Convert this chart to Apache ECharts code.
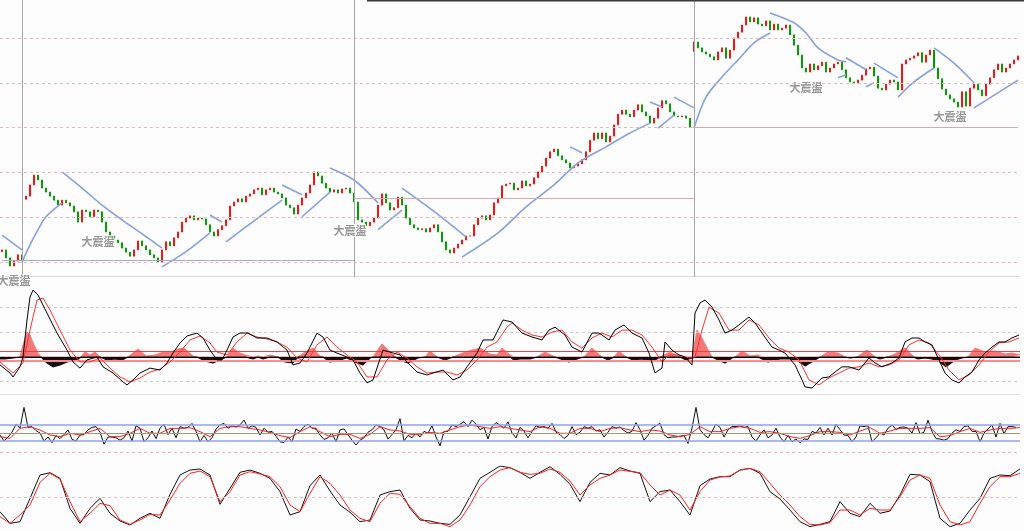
<!DOCTYPE html>
<html><head><meta charset="utf-8">
<script src="https://cdn.jsdelivr.net/npm/echarts@6/dist/echarts.min.js"></script>
<style>html,body{margin:0;padding:0;background:#fcfdfc}#c{width:1024px;height:531px}</style>
</head><body><div id="c"></div>
<script>
// ---- price panel ----
const closes = [12.7,10.9,9.1,10.2,11.6,10.4,24.7,27.2,29.4,28.3,
26.5,25.6,24.7,23.8,22.7,23.8,23.2,22.5,21.2,18.9,
21.6,21.2,20.1,21.6,21.2,18.9,16.7,15.8,14.9,14.3,
13.1,12.2,11.3,12.7,14.7,13.6,12.7,11.6,10.9,10.0,
12.7,14.5,13.6,15.4,16.7,18.9,19.8,20.3,19.4,19.8,
19.6,18.3,16.7,15.8,17.2,18.1,19.4,22.5,23.4,24.1,
23.4,24.7,25.2,26.1,26.5,25.0,26.1,26.5,25.6,25.2,
24.3,22.7,22.1,20.7,22.7,24.3,25.4,27.2,30.1,29.2,
27.6,26.5,25.6,26.1,25.4,26.3,26.5,25.4,23.4,19.4,
18.9,18.1,18.9,19.8,22.7,25.2,23.2,21.6,22.1,24.5,
22.7,19.8,18.3,17.6,17.2,17.4,16.7,17.6,18.3,16.7,
14.5,12.7,12.0,13.1,14.0,14.9,15.8,15.8,18.3,19.8,
20.3,19.4,20.5,23.2,24.3,27.0,27.4,27.6,26.1,26.5,
28.1,27.0,27.4,28.8,30.1,31.4,33.2,34.6,35.2,33.7,
32.8,32.1,31.0,31.4,31.9,32.8,34.6,37.2,38.8,37.5,
38.8,36.8,38.1,40.6,43.0,43.9,43.0,42.4,43.9,45.1,
43.5,42.6,41.0,42.1,44.4,46.0,45.3,43.5,42.6,42.4,
42.6,42.1,40.1,59.1,57.8,56.9,56.4,55.8,55.1,56.9,
57.8,55.5,57.3,60.0,61.3,62.9,64.7,63.6,64.5,63.1,
62.7,63.8,61.8,63.1,61.8,62.2,62.9,60.7,58.4,56.2,
53.3,52.4,54.2,52.9,53.8,54.6,52.4,53.3,54.2,54.6,
52.9,51.1,50.2,50.0,50.6,51.7,53.1,53.5,51.5,48.8,
48.4,49.7,50.6,50.2,48.4,54.2,55.1,55.5,56.0,56.7,
54.6,56.2,57.3,53.3,50.9,48.6,47.3,46.4,45.7,44.6,
48.0,44.8,48.8,49.7,48.4,47.1,49.7,51.1,52.9,54.2,
52.4,53.3,54.2,55.1,56.0];
const gapOpens = {0: 12.3, 6: 24.0, 173: 57.0};
const priceGridLevels = [10, 20, 30, 40, 50, 60];
const periodStarts = [5, 88, 173];
const prevCloseLevels = [[0, 88, 10.4], [88, 173, 24.3], [173, 254, 40.1]];
const maSegments = [
 [[0,16.0],[5,12.7]],
 [[5,9.8],[6,12.0],[9,17.2],[11,20.1],[15,23.2]],
 [[15,30.1],[20,26.5],[25,22.7],[30,19.4],[35,16.3],[40,13.1]],
 [[40,8.9],[46,12.3],[52,16.5]],
 [[52,20.5],[55,18.9]],
 [[56,14.5],[63,19.2],[70,23.8]],
 [[70,27.2],[75,25.0]],
 [[75,20.1],[82,25.6]],
 [[82,31.0],[88,28.3],[94,23.2]],
 [[94,17.2],[100,21.6]],
 [[100,26.5],[108,21.3],[116,15.6]],
 [[115,11.1],[124,16.5],[131,22.3],[138,27.2],[144,32.1],[151,35.7],[157,38.8],[162,41.0]],
 [[142,35.7],[145,34.4]],
 [[162,45.7],[165,44.6]],
 [[164,39.9],[168,42.8]],
 [[168,46.8],[173,44.4]],
 [[173,39.9],[176,46.8],[180,51.3],[184,55.1],[188,58.9],[192,61.1]],
 [[192,65.6],[198,63.4],[201,61.1],[204,57.8],[209,55.1],[211,54.7]],
 [[209,51.1],[211,51.8]],
 [[211,55.6],[216,52.9]],
 [[216,49.1],[218,50.0]],
 [[218,54.4],[224,51.1]],
 [[224,46.8],[228,50.2],[233,53.3]],
 [[233,57.8],[238,54.4],[243,50.0]],
 [[243,44.4],[254,50.6]]
];
const noteText = '大震盪';
const notes = [[3,5.8],[24,14.5],[87,16.9],[201,48.8],[237,42.4]];

// ---- MACD panel (x in bar units) ----
const macdLine = [[0,-0.32],[2.5,-0.65],[3.25,-0.81],[5,-0.4],[5.75,0],[6.75,1.5],[7.5,2.43],[8.25,2.71],[9.5,2.51],[11.75,1.78],[14.25,0.97],[16.75,0.28],[18.25,-0.2],[20,-0.45],[21.75,-0.12],[24.25,0],[25.75,-0.4],[28.25,-0.65],[30.75,-1.01],[31.75,-1.13],[33.25,-0.93],[35,-0.65],[37.5,-0.45],[40,-0.53],[41.75,-0.24],[43.25,0.16],[45,0.57],[46.75,0.85],[49.25,0.97],[50.75,0.77],[52.5,0.28],[54.25,-0.12],[55.5,-0.12],[56.75,0.28],[58.25,0.81],[60,0.97],[62,0.97],[64.25,0.77],[66.75,0.77],[69.25,0.61],[71.75,0.28],[73.25,-0.32],[75,-0.24],[76.75,0.16],[79.25,0.97],[80.75,0.81],[82.5,0.28],[84.25,0.16],[86.75,0],[88.25,-0.12],[90,-0.65],[91.75,-1.05],[93.25,-0.93],[95.75,0.28],[97.5,0.2],[100,0.08],[101.75,-0.2],[104.25,-0.61],[106.75,-0.73],[108.25,-0.65],[110.75,-0.53],[113.25,-0.93],[115,-0.81],[116.75,-0.4],[119.25,0.16],[120.75,0.69],[123.25,0.69],[125.75,1.5],[128,1.42],[130.5,0.97],[133,0.81],[135.5,0.69],[137.25,1.09],[138.75,1.21],[141.25,0.89],[143,0.4],[145.5,0.2],[148,0.97],[149.75,0.97],[152.25,0.69],[153.75,1.09],[156,1.3],[158,0.97],[160.5,0.77],[162.25,0.16],[163.75,-0.65],[165.5,-0.45],[166.25,0.61],[168,0.28],[169.75,0.08],[171.25,0],[173,-0.32],[173.75,1.78],[175,2.19],[176.25,2.31],[178,2.02],[179.75,1.5],[181.25,0.97],[183,1.09],[184.75,1.3],[187.25,1.62],[188.75,1.38],[190.5,0.97],[193,0.4],[194.75,0.28],[196.25,0.16],[198.75,-0.32],[200.5,-0.93],[201.25,-1.21],[203,-1.26],[205.5,-0.85],[207.25,-0.81],[208.75,-0.61],[210.5,-0.4],[212.25,-0.4],[214.75,-0.53],[217.25,-0.04],[218.75,-0.24],[220.5,-0.4],[223,-0.24],[224.75,-0.04],[226.25,0.61],[228,0.77],[229.75,0.77],[231.25,0.61],[233,0.49],[234.75,-0.12],[236.25,-0.65],[238,-0.93],[239.75,-1.05],[241.25,-0.81],[243,-0.61],[244.75,-0.12],[246.25,0.16],[248,0.4],[249.75,0.61],[251.25,0.61],[253,0.77],[254.75,0.89]];
const macdSignal = [[0,-0.2],[3.25,-0.65],[5.75,-0.24],[7.5,1.09],[9.25,2.31],[10.75,2.39],[12.5,1.9],[15,1.09],[17.5,0.28],[20,-0.2],[22.5,-0.2],[25,-0.04],[27.5,-0.45],[30,-0.81],[32.5,-1.01],[35,-0.85],[37.5,-0.61],[40,-0.49],[42.5,-0.2],[45,0.2],[47.5,0.69],[50,0.85],[52.5,0.57],[54.25,0.2],[56.75,0.08],[59.25,0.61],[61.75,0.97],[64.25,0.81],[66.75,0.73],[69.25,0.61],[71.75,0.4],[74.25,-0.04],[76.75,-0.2],[79.25,0.49],[81.75,0.81],[84.25,0.4],[86.75,0.08],[89.25,-0.2],[91.75,-0.81],[94.25,-0.81],[96.75,-0.12],[99.25,0.2],[101.75,-0.04],[104.25,-0.4],[106.75,-0.65],[109.25,-0.61],[111.75,-0.61],[114.25,-0.73],[116.75,-0.53],[119.25,-0.12],[121.75,0.4],[124.25,0.61],[126.75,1.21],[128,1.38],[130.5,1.09],[133,0.89],[135.5,0.81],[138,1.01],[140.5,1.09],[143,0.61],[145.5,0.36],[148,0.77],[150.5,0.97],[153,0.81],[155.5,1.09],[158,1.09],[160.5,0.89],[163,0.4],[165.5,-0.2],[167.25,0.08],[169.75,0.08],[172.25,-0.04],[173.75,0],[175.5,1.09],[177.25,2.02],[179.75,1.78],[182.25,1.09],[184.75,1.09],[187.25,1.5],[189.75,1.3],[192.25,0.77],[194.75,0.36],[197.25,0.2],[199.75,-0.12],[202.25,-0.93],[204.75,-1.13],[207.25,-0.85],[209.75,-0.65],[212.25,-0.45],[214.75,-0.4],[217.25,-0.24],[219.75,-0.4],[222.25,-0.32],[224.75,-0.12],[227.25,0.49],[229.75,0.69],[232.25,0.57],[234.75,0.08],[237.25,-0.53],[239.75,-0.93],[242.25,-0.73],[244.75,-0.32],[247.25,0.2],[249.75,0.57],[252.25,0.61],[254.75,0.77]];
const macdHist = [[0,-0.08],[1.25,-0.08],[3.25,-0.04],[5,0],[5.75,0.49],[6.75,1.01],[7.5,0.89],[8.25,0.57],[9.5,0.16],[10.25,0],[11.75,-0.24],[13.25,-0.4],[15,-0.32],[16.75,-0.2],[19.25,-0.12],[20.25,0],[21.25,0.2],[22.5,0.08],[23.75,0.2],[25,0],[26.75,-0.12],[28.75,-0.08],[30.5,-0.12],[32,0],[34.5,0.32],[36.5,0.04],[38.75,0.08],[40.75,0.2],[42.5,0.2],[44.5,0.32],[46,0.36],[48.25,0.04],[49.25,0],[51.25,-0.16],[53.25,-0.24],[55.5,-0.08],[56.75,0],[58.25,0.36],[59.5,0.2],[61.25,0.08],[63.25,-0.08],[64.5,0.04],[65.75,-0.08],[67.5,0.08],[69.5,0],[71.25,-0.2],[73.25,-0.24],[74.5,0],[76.25,0.2],[78.25,0.36],[80,0.04],[80.75,0],[82.5,-0.2],[85,-0.12],[86.75,-0.04],[88.75,-0.2],[90.75,-0.32],[92.5,-0.04],[93.25,0],[95.5,0.53],[97.5,0.2],[98.75,0],[100.5,-0.16],[102,-0.24],[104.5,-0.04],[106.25,0],[107.5,0.24],[109.25,0],[111.25,-0.12],[113.25,0],[116.25,0.2],[120,0.36],[122.5,0.12],[124.25,0.08],[125.5,0.36],[127.5,0.08],[128.5,-0.12],[130,-0.08],[132.5,-0.08],[134.25,0],[136.25,0.2],[138.75,0],[142.25,-0.2],[145,-0.04],[146,0],[148,0.36],[150.5,0],[152,-0.12],[153.5,0],[154.75,0.24],[156.5,0],[158.25,-0.12],[160.5,-0.08],[163,-0.2],[165,0],[167.5,0.2],[170,0],[171.5,-0.12],[173,-0.04],[173.5,0],[174.25,1.09],[175.5,0.77],[176.75,0.36],[178,0],[179.5,-0.12],[181.25,-0.24],[183,-0.04],[183.75,0],[185.5,0.24],[187.5,0.04],[189.5,0.08],[190.5,-0.08],[192,-0.2],[195,-0.08],[197.5,-0.08],[199.5,-0.16],[201.25,-0.36],[203.75,-0.12],[205,0],[207,0.2],[209.5,0.16],[211.25,0],[212.5,-0.04],[214.25,0],[216.75,0.28],[218.75,0],[220,-0.08],[221.75,0],[223.25,0.08],[226.25,0.36],[228.25,0.04],[229.5,-0.08],[231.25,-0.04],[233,-0.08],[235,-0.2],[236.5,-0.4],[238.75,-0.12],[240.5,-0.04],[242,0],[243.75,0.36],[246.25,0.2],[248.75,0.24],[251.25,0.12],[253,0.16],[255,0.08]];
const macdGridLevels = [2, 1, -1];
const macdUpper = 0.24, macdLower = -0.16;

// ---- oscillator panel (one value per bar) ----
const oscLine = [-0.25,-1.0,-0.5,0.1,1.1,0.6,3.2,0.7,0.8,0.3,
0,-1.0,-0.5,-1.2,-0.3,-0.7,-0.2,0.4,-0.8,-1.0,
-0.25,-0.2,0.4,0.7,0.8,0.1,-1.4,-0.5,-0.5,-0.6,
-0.9,-0.6,0.25,-1.0,0.9,0.6,-1.1,-0.6,0.25,-0.7,
0.6,1.1,-0.2,0.6,-0.6,0.8,0.6,0.7,1.2,0.2,
-1.1,-0.3,-1.1,-0.6,0.5,1.0,1.2,0.6,0.9,0.75,
1.0,1.6,0.6,0.9,0.7,-0.25,0.6,0.1,0.2,-0.4,
-1.1,-1.2,-0.5,-1.1,0.5,0.2,0.8,1.1,0.6,0.6,
-0.25,-0.8,-0.6,0,-1.1,0.4,0.5,-0.2,-0.9,-1.5,
-0.9,-0.6,0.1,0.4,1.0,0.8,0.4,-0.75,-0.2,0.4,
1.8,-1.0,-0.3,-0.6,0,-0.5,0.2,0,0.9,-0.5,
-1.6,0.2,0.2,1.0,0.8,1.1,1.4,0.8,1.6,1.1,
0.4,0.7,-0.75,0.8,1.3,1.0,0.6,1.4,
0,-0.6,0.7,0.25,-0.6,0.2,0.9,0.7,0.8,0.6,
1.2,0.1,-0.2,-0.7,-0.3,0.8,-0.2,0.1,0.8,0.6,
0.8,0.25,0.4,-0.5,0.1,0.8,0.6,0.75,0.3,0,
0.2,1.3,0.4,-0.9,-0.3,0.6,0.9,1.2,-0.2,-0.6,
-0.5,-0.5,-0.4,-0.3,-1.3,0.6,3.2,0.4,-0.2,-0.6,
0.2,1.1,0.7,-0.5,0.4,0.8,0.8,0.9,0.7,0.8,
-0.5,-1.0,-0.25,0.4,-0.6,-0.25,0.6,-0.5,-1.1,-0.3,
-1.1,-0.75,-1.2,-0.75,-0.8,0.2,0,0.7,-0.25,0.6,
-0.25,1.1,0.4,-0.25,-0.3,-1.1,-0.5,0.9,0.8,0.9,
-1.1,-0.6,0,-0.25,0.6,1.0,0.45,0.7,0.75,0.6,
0,1.3,-0.1,0.1,1.6,0.2,-0.7,-0.75,-0.9,-0.7,
0,0.4,0.2,0.8,0.9,0.2,0.2,-1.1,0,0.5,
1.0,-0.5,1.2,-0.1,0.8,0.8,0.7];
// sampled every 2.5 bars
const oscSignal = [-0.46,-0.67,0.58,0.79,0.38,-0.25,-0.46,-0.04,-0.25,0.17,
0.58,-0.46,-0.46,-0.04,0.58,-0.04,-0.04,0.58,0.58,0.67,
0.17,-0.46,0.58,0.79,0.79,0.58,0.38,0.08,-0.33,-0.58,
0.17,0.79,0.17,-0.46,-0.17,-0.17,-0.67,-0.17,0.79,0.38,
0.25,-0.17,-0.17,0.08,-0.04,0.38,0.79,1.0,0.79,0.58,
0.79,0.58,
0.38,0.17,0.79,0.58,-0.04,-0.04,0.58,0.58,0.17,0.58,
0.67,0.38,0.17,0.38,0.25,-0.25,-0.46,-0.17,0.79,0.17,
0.17,0.58,0.79,0.58,0.08,0.17,-0.04,-0.46,-0.67,-0.33,
0.17,0.17,0.08,-0.25,0.25,0.67,-0.04,0.25,0.58,0.58,
0.58,0.67,-0.46,-0.33,0.17,0.58,0.08,0.38,0.58,0.58,
0.67];
const oscBands = [1, -1];

// ---- stochastic panel (sampled every 2.5 bars) ----
const stochK = [26.3,7.5,10.2,47.8,85.5,89.2,80.1,31.7,7.5,31.7,
47.8,23.7,11.3,4.8,15.6,23.7,15.6,54.3,85.5,93.5,
95.2,85.5,38.2,64.0,89.8,93.5,88.2,80.1,58.6,21.0,
26.3,68.3,85.5,59.7,37.1,25.3,10.2,12.9,53.2,58.6,
61.3,31.7,12.9,11.3,7.5,5.9,21.0,50.5,80.1,89.8,
100,97.3,
89.8,80.1,89.8,98.9,86.6,70.4,42.5,73.6,88.2,85.5,
97.3,91.9,88.2,42.5,58.6,61.3,42.5,21.0,68.3,79.0,
82.8,82.8,93.5,96.2,88.2,58.6,46.8,29.0,10.2,2.2,
5.9,10.2,42.5,23.7,18.3,39.8,23.7,27.4,53.2,86.6,
85.5,74.7,15.6,2.2,7.5,29.0,47.8,80.1,85.5,84.4,
95.2];
const stochD = [18.3,7.5,21.0,37.1,73.6,88.2,79.0,42.5,10.2,23.7,
39.8,36.0,12.9,5.9,12.9,22.0,21.0,45.2,72.0,88.2,
91.9,82.8,42.5,58.6,85.5,90.9,87.1,82.8,66.7,37.1,
26.3,55.9,82.8,72.0,53.2,29.0,15.6,10.2,39.8,55.9,
54.3,34.4,15.6,7.5,7.5,2.2,12.9,37.1,66.7,82.8,
93.5,97.3,
89.8,86.6,88.2,95.2,89.8,75.8,53.2,69.4,80.1,85.5,
93.5,91.4,89.2,69.4,53.2,61.3,53.2,29.0,58.6,77.4,
82.3,83.9,93.5,96.2,90.9,72.0,53.2,37.1,18.3,5.9,
4.8,8.6,29.0,29.0,21.0,31.7,29.0,29.0,50.5,77.4,
85.5,80.1,37.1,10.2,4.8,10.2,39.8,66.7,82.8,82.8,
88.2];
const stochMid = 50;
const sampleStep = 2.5;

// ---- build ----
const cats = closes.map((_, i) => String(i));
const candles = closes.map((c, i) => {
  const o = (i in gapOpens) ? gapOpens[i] : closes[i - 1];
  return [o, c, Math.min(o, c), Math.max(o, c)];
});
const stepped = arr => arr.map((v, k) => [k * sampleStep, v]);
const noLabel = {show: false};

const series = [];
series.push({
  type: 'candlestick', xAxisIndex: 0, yAxisIndex: 0, data: candles, barWidth: 2,
  itemStyle: {color: '#ff1010', color0: '#00a000', borderColor: '#ff1010', borderColor0: '#00a000', borderWidth: 1},
  markLine: {
    silent: true, symbol: 'none', label: noLabel, animation: false,
    data: [
      ...priceGridLevels.map(v => ({yAxis: v, lineStyle: {type: [3, 3], color: '#e2bcbc', width: 1}})),
      {yAxis: 6.75, lineStyle: {type: 'solid', color: '#dcdcdc', width: 1}},
      ...periodStarts.map(i => ({xAxis: i, lineStyle: {type: 'solid', color: '#a8a8a8', width: 1}})),
      ...prevCloseLevels.map(([a, b, v], k) => [
        {coord: [a, v], lineStyle: {type: 'solid', color: k === 0 ? '#a9a6c8' : '#d8aab0', width: 1}},
        {coord: [b, v]}
      ])
    ]
  }
});
maSegments.forEach(seg => series.push({
  type: 'line', xAxisIndex: 0, yAxisIndex: 0, data: seg, showSymbol: false, smooth: 0.3,
  lineStyle: {color: '#86a2dc', width: 1.6}, silent: true
}));
series.push({
  type: 'scatter', xAxisIndex: 0, yAxisIndex: 0, clip: false, silent: true, z: 20,
  symbolSize: 1, itemStyle: {color: 'rgba(0,0,0,0)'},
  data: notes,
  label: {show: true, formatter: noteText, position: 'inside', color: '#7c7c7c', fontSize: 11, fontWeight: 'bold',
    fontFamily: 'Noto Sans CJK TC', textBorderColor: '#ffffff', textBorderWidth: 2}
});

// MACD panel
series.push({
  type: 'line', xAxisIndex: 1, yAxisIndex: 1, showSymbol: false, silent: true, z: 1,
  data: macdHist.map(([t, v]) => [t, Math.max(v, 0)]),
  lineStyle: {width: 1, color: '#f47878'}, areaStyle: {color: '#f47878', opacity: 1},
  markLine: {
    silent: true, symbol: 'none', label: noLabel, animation: false,
    data: [
      ...macdGridLevels.map(v => ({yAxis: v, lineStyle: {type: [3, 3], color: '#cccccc', width: 1}})),
      {yAxis: -1.49, lineStyle: {type: 'solid', color: '#e2e2e2', width: 1}},
      {yAxis: 0, lineStyle: {type: 'solid', color: '#000000', width: 1}},
      {yAxis: macdUpper, lineStyle: {type: 'solid', color: '#ff3a3a', width: 1}},
      {yAxis: macdLower, lineStyle: {type: 'solid', color: '#ff8c8c', width: 2}}
    ]
  }
});
series.push({
  type: 'line', xAxisIndex: 1, yAxisIndex: 1, showSymbol: false, silent: true, z: 4,
  data: macdHist.map(([t, v]) => [t, Math.min(v, 0)]),
  lineStyle: {width: 1.2, color: '#111111'}, areaStyle: {color: '#111111', opacity: 1}
});
series.push({type: 'line', xAxisIndex: 1, yAxisIndex: 1, showSymbol: false, silent: true, z: 5, data: macdSignal,
  lineStyle: {color: '#ff3030', width: 1}});
series.push({type: 'line', xAxisIndex: 1, yAxisIndex: 1, showSymbol: false, silent: true, z: 6, data: macdLine,
  lineStyle: {color: '#000000', width: 1}});

// oscillator panel
series.push({
  type: 'line', xAxisIndex: 2, yAxisIndex: 2, showSymbol: false, silent: true, z: 3,
  data: oscSignal.map((v, k) => [k * sampleStep, v]),
  lineStyle: {color: '#ff2020', width: 1},
  markLine: {
    silent: true, symbol: 'none', label: noLabel, animation: false,
    data: [
      ...oscBands.map(v => ({yAxis: v, lineStyle: {type: 'solid', color: '#8ea3ea', width: 1.5}})),
      {yAxis: 0, lineStyle: {type: 'solid', color: '#9c9c78', width: 1}},
      {yAxis: -2.45, lineStyle: {type: [3, 3], color: '#e6b6b6', width: 1}}
    ]
  }
});
series.push({type: 'line', xAxisIndex: 2, yAxisIndex: 2, showSymbol: false, silent: true,
  data: oscLine.map((v, i) => [i, v]), lineStyle: {color: '#111111', width: 1}, z: 2});

// stochastic panel
series.push({
  type: 'line', xAxisIndex: 3, yAxisIndex: 3, showSymbol: false, silent: true,
  data: stepped(stochK), lineStyle: {color: '#111111', width: 1},
  markLine: {silent: true, symbol: 'none', label: noLabel, animation: false,
    data: [{yAxis: stochMid, lineStyle: {type: [3, 3], color: '#e2c0c0', width: 1}}]}
});
series.push({type: 'line', xAxisIndex: 3, yAxisIndex: 3, showSymbol: false, silent: true,
  data: stepped(stochD), lineStyle: {color: '#ff2020', width: 1}});

const grids = [
  {left: 0, right: 4, top: 0, height: 277},
  {left: 0, right: 4, top: 280, height: 114},
  {left: 0, right: 4, top: 395, height: 58},
  {left: 0, right: 4, top: 466, height: 62}
];
const chart = echarts.init(document.getElementById('c'), null, {renderer: 'canvas'});
chart.setOption({
  animation: false,
  backgroundColor: '#fcfdfc',
  grid: grids,
  xAxis: [
    {type: 'category', data: cats, gridIndex: 0, show: false},
    {type: 'value', gridIndex: 1, min: 0, max: 255, show: false},
    {type: 'value', gridIndex: 2, min: 0, max: 255, show: false},
    {type: 'value', gridIndex: 3, min: 0, max: 255, show: false}
  ],
  yAxis: [
    {type: 'value', gridIndex: 0, min: 6.65, max: 68.48, show: false},
    {type: 'value', gridIndex: 1, min: -1.5, max: 3.12, show: false},
    {type: 'value', gridIndex: 2, min: -2.5, max: 4.75, show: false},
    {type: 'value', gridIndex: 3, min: 0, max: 100, show: false}
  ],
  graphic: [{type: 'line', silent: true, shape: {x1: 367, y1: 0.5, x2: 1024, y2: 0.5},
    style: {stroke: '#3a3a3a', lineWidth: 2}, z: 100}],
  series: series
});
</script>
</body></html>
